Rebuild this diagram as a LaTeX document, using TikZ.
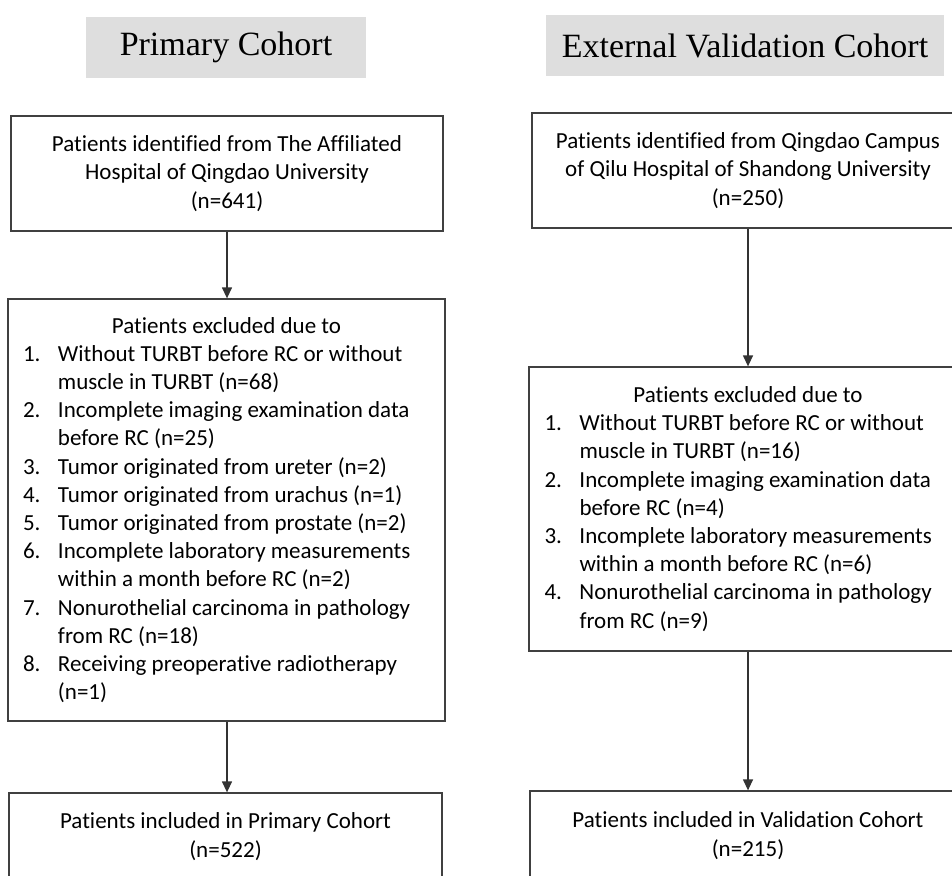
\documentclass[tikz,border=0pt]{standalone}
\usepackage{fontspec}
\setmainfont{Carlito}[Ligatures={NoCommon,NoContextual,NoRare},RawFeature={-liga},RawFeature={-clig}]
\newfontfamily\titlefont{Liberation Serif}
\usetikzlibrary{arrows.meta}
\newcommand{\itm}[2]{\par\noindent\hangindent=35pt\hangafter=1\makebox[35pt][l]{#1}#2}
\begin{document}
\begin{tikzpicture}[x=1pt,y=-1pt,
  box/.style={draw=black!75, line width=1.3pt, rectangle, inner sep=0pt,
              font=\fontsize{23}{28.2}\selectfont, align=center},
  ttl/.style={fill=black!13, inner sep=0pt, font=\titlefont\fontsize{34}{40}\selectfont},
  arr/.style={draw=black!80, line width=1.3pt, -{Triangle[width=10pt,length=11pt]}}]
\useasboundingbox (0,0) rectangle (952,875);
\clip (0,0) rectangle (952,875);
% titles
\node[ttl, minimum width=280, minimum height=61] (t1) at (226,47.5) {Primary Cohort};
\node[ttl, minimum width=398, minimum height=61] (t2) at (745,45.5) {External Validation Cohort};
% left column
\node[box, minimum width=432, minimum height=115] (l1) at (227,173.5)
  {Patients identified from The Affiliated\\Hospital of Qingdao University\\(n=641)};
\node[box, minimum width=437, minimum height=422] (l2) at (226.5,510)
  {\begin{minipage}{407pt}
   {\centering Patients excluded due to\par}
   \raggedright
   \itm{1.}{Without TURBT before RC or without\newline muscle in TURBT (n=68)}
   \itm{2.}{Incomplete imaging examination data\newline before RC (n=25)}
   \itm{3.}{Tumor originated from ureter (n=2)}
   \itm{4.}{Tumor originated from urachus (n=1)}
   \itm{5.}{Tumor originated from prostate (n=2)}
   \itm{6.}{Incomplete laboratory measurements\newline within a month before RC (n=2)}
   \itm{7.}{Nonurothelial carcinoma in pathology\newline from RC (n=18)}
   \itm{8.}{Receiving preoperative radiotherapy\newline (n=1)}\par
   \end{minipage}};
\node[box, minimum width=433, minimum height=87] (l3) at (225.5,836.5)
  {Patients included in Primary Cohort\\(n=522)};
% right column
\node[box, minimum width=432, minimum height=115] (r1) at (748,170.5)
  {Patients identified from Qingdao Campus\\of Qilu Hospital of Shandong University\\(n=250)};
\node[box, minimum width=438, minimum height=284] (r2) at (748,509)
  {\begin{minipage}{407pt}
   {\centering Patients excluded due to\par}
   \raggedright
   \itm{1.}{Without TURBT before RC or without\newline muscle in TURBT (n=16)}
   \itm{2.}{Incomplete imaging examination data\newline before RC (n=4)}
   \itm{3.}{Incomplete laboratory measurements\newline within a month before RC (n=6)}
   \itm{4.}{Nonurothelial carcinoma in pathology\newline from RC (n=9)}\par
   \end{minipage}};
\node[box, minimum width=436, minimum height=89] (r3) at (748,835.5)
  {Patients included in Validation Cohort\\(n=215)};
% connectors
\draw[arr] (l1.south) -- (l1.south |- l2.north);
\draw[arr] (l1.south |- l2.south) -- (l1.south |- l3.north);
\draw[arr] (r1.south) -- (r1.south |- r2.north);
\draw[arr] (r2.south) -- (r2.south |- r3.north);
\end{tikzpicture}
\end{document}
